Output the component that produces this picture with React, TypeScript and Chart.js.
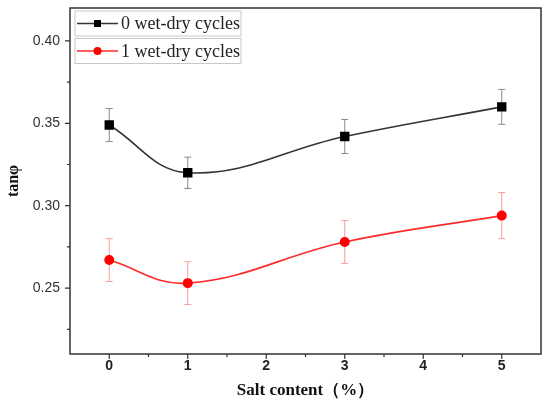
import React, { useEffect, useRef } from "react";
import { Chart, registerables } from "chart.js";

Chart.register(...registerables);

const saltContent = [0, 1, 3, 5];
const cycles0 = [0.349, 0.320, 0.342, 0.360];
const cycles0Err = [0.010, 0.0095, 0.0103, 0.0106];
const cycles1 = [0.267, 0.253, 0.278, 0.294];
const cycles1Err = [0.013, 0.013, 0.013, 0.014];
const seriesLabels = ["0 wet-dry cycles", "1 wet-dry cycles"];
const xTicks = [0, 1, 2, 3, 4, 5];
const xMinorTicks = [0.5, 1.5, 2.5, 3.5, 4.5];
const yTicks = [0.25, 0.3, 0.35, 0.4];
const yMinorTicks = [0.225, 0.275, 0.325, 0.375];

const errorColors = ["#8a8a8a", "#ff9a9a"];

const errorBarPlugin = {
  id: "errorBars",
  beforeDatasetsDraw(chart: any) {
    const { ctx, scales } = chart;
    const xs = scales.x;
    const ys = scales.y;
    chart.data.datasets.forEach((ds: any, i: number) => {
      const errs = ds.errors as number[];
      if (!errs) return;
      ctx.save();
      ctx.strokeStyle = errorColors[i];
      ctx.lineWidth = 1;
      ds.data.forEach((p: any, j: number) => {
        const x = xs.getPixelForValue(p.x);
        const y1 = ys.getPixelForValue(p.y + errs[j]);
        const y2 = ys.getPixelForValue(p.y - errs[j]);
        ctx.beginPath();
        ctx.moveTo(x, y1);
        ctx.lineTo(x, y2);
        ctx.moveTo(x - 3.5, y1);
        ctx.lineTo(x + 3.5, y1);
        ctx.moveTo(x - 3.5, y2);
        ctx.lineTo(x + 3.5, y2);
        ctx.stroke();
      });
      ctx.restore();
    });
  },
};

const framePlugin = {
  id: "frame",
  afterDatasetsDraw(chart: any) {
    const { ctx, chartArea, scales } = chart;
    const { left, right, top, bottom } = chartArea;
    ctx.save();
    ctx.strokeStyle = "#333333";
    ctx.lineWidth = 1.5;
    ctx.strokeRect(left, top, right - left, bottom - top);
    ctx.lineWidth = 1.2;
    ctx.beginPath();
    xTicks.forEach((v) => {
      const x = scales.x.getPixelForValue(v);
      ctx.moveTo(x, bottom);
      ctx.lineTo(x, bottom + 5);
    });
    xMinorTicks.forEach((v) => {
      const x = scales.x.getPixelForValue(v);
      ctx.moveTo(x, bottom);
      ctx.lineTo(x, bottom + 3);
    });
    yTicks.forEach((v) => {
      const y = scales.y.getPixelForValue(v);
      ctx.moveTo(left, y);
      ctx.lineTo(left - 5, y);
    });
    yMinorTicks.forEach((v) => {
      const y = scales.y.getPixelForValue(v);
      ctx.moveTo(left, y);
      ctx.lineTo(left - 3, y);
    });
    ctx.stroke();
    ctx.restore();
  },
};

const legendPlugin = {
  id: "boxLegend",
  afterDraw(chart: any) {
    const { ctx, chartArea } = chart;
    const bx = chartArea.left + 5;
    const bw = 166;
    const bh = 25;
    ctx.save();
    chart.data.datasets.forEach((ds: any, i: number) => {
      const by = chartArea.top + 3 + i * 27.5;
      ctx.strokeStyle = "#c8c8c8";
      ctx.lineWidth = 1;
      ctx.strokeRect(bx, by, bw, bh);
      const cy = by + bh / 2;
      ctx.strokeStyle = ds.borderColor;
      ctx.lineWidth = 1.5;
      ctx.beginPath();
      ctx.moveTo(bx + 2, cy);
      ctx.lineTo(bx + 43, cy);
      ctx.stroke();
      ctx.fillStyle = ds.pointBackgroundColor;
      if (ds.pointStyle === "rect") {
        ctx.fillRect(bx + 22.5 - 3.5, cy - 3.5, 7, 7);
      } else {
        ctx.beginPath();
        ctx.arc(bx + 22.5, cy, 4, 0, Math.PI * 2);
        ctx.fill();
      }
      ctx.fillStyle = "#222222";
      ctx.font = "18px 'Liberation Serif', 'Times New Roman', serif";
      ctx.textBaseline = "middle";
      ctx.textAlign = "left";
      ctx.fillText(ds.label, bx + 46, cy + 1);
    });
    ctx.restore();
  },
};

export default function App() {
  const canvasRef = useRef<HTMLCanvasElement | null>(null);

  useEffect(() => {
    document.body.style.margin = "0";
    const canvas = canvasRef.current;
    if (!canvas) return;
    const chart = new Chart(canvas, {
      type: "line",
      data: {
        datasets: [
          {
            label: seriesLabels[0],
            data: saltContent.map((x, i) => ({ x, y: cycles0[i] })),
            errors: cycles0Err,
            borderColor: "#333333",
            backgroundColor: "#000000",
            pointBackgroundColor: "#000000",
            pointBorderColor: "#000000",
            pointStyle: "rect",
            pointRadius: 5.5,
            borderWidth: 1.6,
            tension: 0.4,
          } as any,
          {
            label: seriesLabels[1],
            data: saltContent.map((x, i) => ({ x, y: cycles1[i] })),
            errors: cycles1Err,
            borderColor: "#ff2a2a",
            backgroundColor: "#ff0000",
            pointBackgroundColor: "#ff0000",
            pointBorderColor: "#ff0000",
            pointStyle: "circle",
            pointRadius: 4.2,
            borderWidth: 1.6,
            tension: 0.4,
          } as any,
        ],
      },
      options: {
        animation: false,
        responsive: true,
        maintainAspectRatio: false,
        layout: { padding: { top: 8, right: 9, left: 0, bottom: 0 } },
        plugins: {
          legend: { display: false },
          tooltip: { enabled: false },
        },
        scales: {
          x: {
            type: "linear",
            min: -0.5,
            max: 5.5,
            grid: { display: false, drawTicks: false },
            border: { display: false },
            afterBuildTicks: (scale: any) => {
              scale.ticks = xTicks.map((v) => ({ value: v }));
            },
            afterFit: (scale: any) => {
              scale.height = 51;
              scale.paddingLeft = 0;
              scale.paddingRight = 0;
            },
            ticks: {
              padding: 4,
              color: "#222222",
              font: { family: "'Liberation Sans', Arial, sans-serif", size: 14, weight: "bold" },
              callback: (v: any) => String(v),
            },
            title: {
              display: true,
              text: "Salt content（%）",
              color: "#111111",
              padding: { top: 0, bottom: 4 },
              font: { family: "'Liberation Serif', 'Times New Roman', serif", size: 17, weight: "bold" },
            },
          },
          y: {
            type: "linear",
            min: 0.21,
            max: 0.42,
            grid: { display: false, drawTicks: false },
            border: { display: false },
            afterBuildTicks: (scale: any) => {
              scale.ticks = yTicks.map((v) => ({ value: v }));
            },
            afterFit: (scale: any) => {
              scale.width = 70;
              scale.paddingTop = 0;
              scale.paddingBottom = 0;
            },
            ticks: {
              padding: 10,
              color: "#333333",
              font: { family: "'Liberation Sans', Arial, sans-serif", size: 14 },
              callback: (v: any) => Number(v).toFixed(2),
            },
            title: {
              display: true,
              text: "tanφ",
              color: "#111111",
              padding: { top: 4, bottom: 0 },
              font: { family: "'Liberation Serif', 'Times New Roman', serif", size: 16, weight: "bold" },
            },
          },
        },
      },
      plugins: [errorBarPlugin, framePlugin, legendPlugin],
    });
    return () => chart.destroy();
  }, []);

  return (
    <div style={{ width: 550, height: 405, position: "relative" }}>
      <canvas ref={canvasRef} />
    </div>
  );
}
